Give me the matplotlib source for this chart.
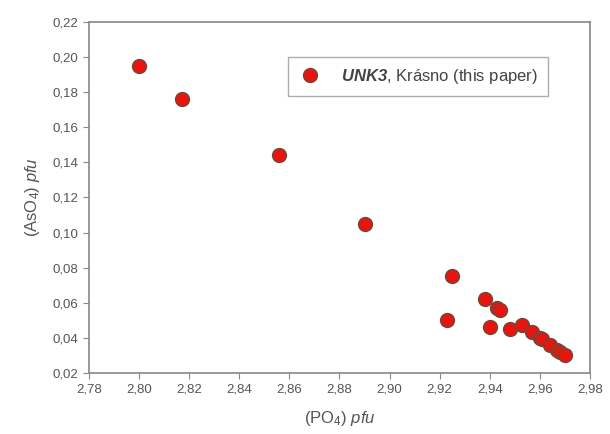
import matplotlib
matplotlib.use('Agg')
import matplotlib.pyplot as plt
from matplotlib.ticker import FuncFormatter

plt.rcParams['font.family'] = ['Liberation Sans', 'DejaVu Sans']
plt.rcParams['mathtext.fontset'] = 'custom'
plt.rcParams['mathtext.rm'] = 'Liberation Sans'
plt.rcParams['mathtext.it'] = 'Liberation Sans:italic'
plt.rcParams['mathtext.bf'] = 'Liberation Sans:bold'
plt.rcParams['mathtext.bfit'] = 'Liberation Sans:italic:bold'

# UNK3, Krásno - PO4 vs AsO4 per formula unit
po4 = [2.800, 2.817, 2.856, 2.890, 2.925, 2.923, 2.938, 2.943, 2.944, 2.940,
       2.948, 2.953, 2.957, 2.960, 2.961, 2.964, 2.967, 2.968, 2.970]
aso4 = [0.195, 0.176, 0.144, 0.105, 0.075, 0.050, 0.062, 0.057, 0.056, 0.046,
        0.045, 0.047, 0.043, 0.040, 0.039, 0.036, 0.033, 0.032, 0.030]

txt = '#555555'
fig = plt.figure(figsize=(6.1, 4.34), dpi=100)
ax = fig.add_axes([0.146, 0.141, 0.821, 0.808])

ax.plot(po4, aso4, 'o', ms=10, mfc='#e8140e', mec='#6b4a3a', mew=1.0,
        label=r'$\mathbfit{UNK3}$, Krásno (this paper)')

ax.set_xlim(2.78, 2.98)
ax.set_ylim(0.02, 0.22)
ax.set_xticks([2.78 + 0.02 * i for i in range(11)])
ax.set_yticks([0.02 + 0.02 * i for i in range(11)])
ax.xaxis.set_major_formatter(FuncFormatter(lambda v, p: f'{v:.2f}'.replace('.', ',')))
ax.yaxis.set_major_formatter(FuncFormatter(lambda v, p: f'{v:.2f}'.replace('.', ',')))
ax.tick_params(direction='out', length=4, labelsize=9.5, colors='#888888',
               labelcolor=txt, top=False, right=False)
for s in ax.spines.values():
    s.set_color('#888888')
    s.set_linewidth(1.2)

ax.set_xlabel(r'(PO$_4$) $\mathit{pfu}$', fontsize=12, color=txt, labelpad=10)
ax.set_ylabel(r'(AsO$_4$) $\mathit{pfu}$', fontsize=12, color=txt, labelpad=8)

leg = ax.legend(loc='upper left', bbox_to_anchor=(0.397, 0.9), fontsize=12,
                frameon=True, fancybox=False, edgecolor='#999999',
                handletextpad=1.1, borderpad=0.6, handlelength=1.5,
                borderaxespad=0)
for t in leg.get_texts():
    t.set_color('#444444')

fig.savefig('out.png', dpi=100)
